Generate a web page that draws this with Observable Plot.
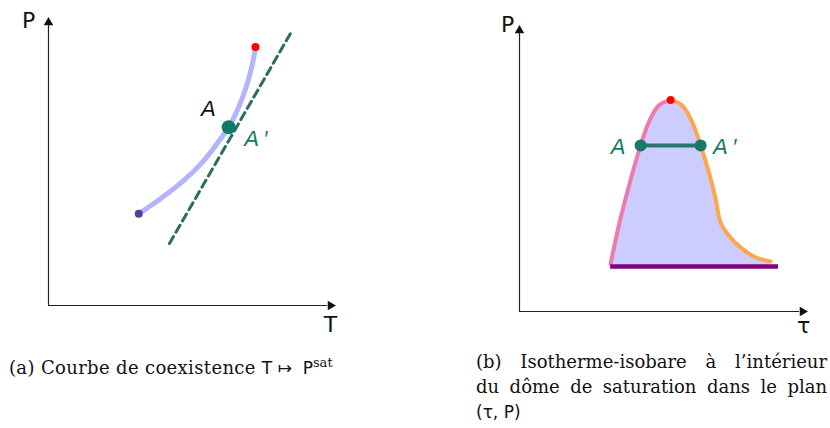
<!DOCTYPE html>
<html><head><meta charset="utf-8">
<script src="https://cdn.jsdelivr.net/npm/d3@7"></script>
<script src="https://cdn.jsdelivr.net/npm/@observablehq/plot@0.6"></script>
<style>
body{margin:0;background:#fff;}
#wrap{position:relative;width:830px;height:428px;}
#row{display:flex;}
.cap{position:absolute;font-family:"DejaVu Serif",serif;font-size:18px;color:#111;line-height:25px;}
#capa{left:9px;top:350px;letter-spacing:0.35px;}
#capb{left:476px;top:349px;width:351px;}
.j{text-align:justify;text-align-last:justify;white-space:nowrap;}
.sf{font-family:"DejaVu Sans",sans-serif;font-size:17px;letter-spacing:0;}
</style></head><body>
<div id="wrap"><div id="row"></div>
<div class="cap" id="capa">(a) Courbe de coexistence <span class="sf">T ↦&nbsp;&nbsp;P<sup style="font-family:'DejaVu Serif';font-size:13px">sat</sup></span></div>
<div class="cap" id="capb"><div class="j">(b) Isotherme-isobare à l’intérieur</div><div class="j">du dôme de saturation dans le plan</div><div><span class="sf">(τ, P)</span></div></div>
</div>
<script>
// Panel (a): coexistence curve T -> Psat (schematic units 0..100)
const coexT = [32.0, 39.7, 48.0, 55.1, 61.0, 63.9, 66.9, 69.9, 72.2, 73.4];
const coexP = [32.4, 37.7, 44.2, 51.2, 58.9, 63.0, 68.9, 76.6, 84.8, 91.3];
const tangentT = [42.9, 85.8];
const tangentP = [21.9, 96.1];
const pointA_a = {T: 63.9, P: 63.0};
// Panel (b): saturation dome in (tau, P)
const liqTau = [32.2, 35.1, 38.1, 41.0, 42.8, 45.7, 49.2, 53.4];
const liqP   = [17.0, 30.6, 42.5, 53.1, 59.1, 67.4, 73.3, 75.3];
const vapTau = [53.4, 57.5, 61.0, 64.0, 66.9, 69.3, 71.0, 74.0, 78.7, 83.4, 88.7];
const vapP   = [75.3, 73.3, 67.4, 59.1, 49.6, 40.1, 31.8, 27.0, 22.3, 19.3, 17.8];
const baseTau = [32.2, 91.5];
const baseP = 16.0;
const isoTau = [42.8, 64.0];
const isoP = 59.1;

const teal = "#127a66";
const labelFont = "Liberation Sans";
const row = document.getElementById("row");

function axes(labelY, labelX, py, px) {
  return [
    Plot.ruleY([0], {x1: 0, x2: 99, stroke: "#222", strokeWidth: 1.2}),
    Plot.ruleX([0], {y1: 0, y2: 99, stroke: "#222", strokeWidth: 1.2}),
    Plot.dot([[100, 0]], {x: d => d[0], y: d => d[1], symbol: "triangle2", r: 4.5, fill: "#111", stroke: null, rotate: 90}),
    Plot.dot([[0, 100]], {x: d => d[0], y: d => d[1], symbol: "triangle2", r: 4.5, fill: "#111", stroke: null}),
    Plot.text([labelY], {x: py[0], y: py[1], text: d => d, fontSize: 22, fontFamily: "DejaVu Sans", fill: "#111"}),
    Plot.text([labelX], {x: px[0], y: px[1], text: d => d, fontSize: 22, fontFamily: "DejaVu Sans", fill: "#111"})
  ];
}

const coex = coexT.map((t, i) => ({T: t, P: coexP[i]}));
const tangent = tangentT.map((t, i) => ({T: t, P: tangentP[i]}));

const plotA = Plot.plot({
  width: 415, height: 340,
  marginLeft: 48, marginRight: 85, marginTop: 22, marginBottom: 35,
  x: {domain: [0, 100], axis: null},
  y: {domain: [0, 100], axis: null},
  marks: [
    ...axes("P", "T", [-7, 100.7], [100, -7]),
    Plot.line(tangent, {x: "T", y: "P", stroke: "#2a6e5e", strokeWidth: 3, strokeDasharray: "8,5"}),
    Plot.line(coex, {x: "T", y: "P", stroke: "#b3b3ff", strokeWidth: 5, curve: "catmull-rom"}),
    Plot.dot([coex[0]], {x: "T", y: "P", r: 4, fill: "#553c9a", stroke: null}),
    Plot.dot([coex[coex.length - 1]], {x: "T", y: "P", r: 4, fill: "#ff0000", stroke: null}),
    Plot.dot([pointA_a], {x: "T", y: "P", r: 7, fill: teal, stroke: null}),
    Plot.text(["A"], {x: 56.7, y: 69.5, text: d => d, fontSize: 22, fontStyle: "italic", fontFamily: labelFont, fill: "#111"}),
    Plot.text(["A\u2009′"], {x: 73.5, y: 59, text: d => d, fontSize: 22, fontStyle: "italic", fontFamily: labelFont, fill: teal})
  ]
});

const liq = liqTau.map((t, i) => ({tau: t, P: liqP[i]}));
const vap = vapTau.map((t, i) => ({tau: t, P: vapP[i]}));
const dome = liq.concat(vap.slice(1));
const iso = isoTau.map(t => ({tau: t, P: isoP}));

const plotB = Plot.plot({
  width: 415, height: 340,
  marginLeft: 104, marginRight: 28, marginTop: 30, marginBottom: 29,
  x: {domain: [0, 100], axis: null},
  y: {domain: [0, 100], axis: null},
  marks: [
    ...axes("P", "τ", [-4.2, 101.8], [100.4, -5]),
    Plot.areaY(dome, {x: "tau", y1: baseP, y2: "P", fill: "#ccccff", curve: "catmull-rom"}),
    Plot.line(liq, {x: "tau", y: "P", stroke: "#f07aae", strokeWidth: 4, curve: "catmull-rom"}),
    Plot.line(vap, {x: "tau", y: "P", stroke: "#ffa64d", strokeWidth: 4, curve: "catmull-rom"}),
    Plot.ruleY([baseP], {x1: baseTau[0], x2: baseTau[1], stroke: "#800080", strokeWidth: 4.5}),
    Plot.line(iso, {x: "tau", y: "P", stroke: "#2d7670", strokeWidth: 4}),
    Plot.dot(iso, {x: "tau", y: "P", r: 6, fill: teal, stroke: null}),
    Plot.dot([liq[liq.length - 1]], {x: "tau", y: "P", r: 4, fill: "#ff0000", stroke: null}),
    Plot.text(["A"], {x: 34.8, y: 58.5, text: d => d, fontSize: 22, fontStyle: "italic", fontFamily: labelFont, fill: teal}),
    Plot.text(["A\u2009′"], {x: 72.5, y: 58.5, text: d => d, fontSize: 22, fontStyle: "italic", fontFamily: labelFont, fill: teal})
  ]
});

row.append(plotA, plotB);
</script></body></html>
